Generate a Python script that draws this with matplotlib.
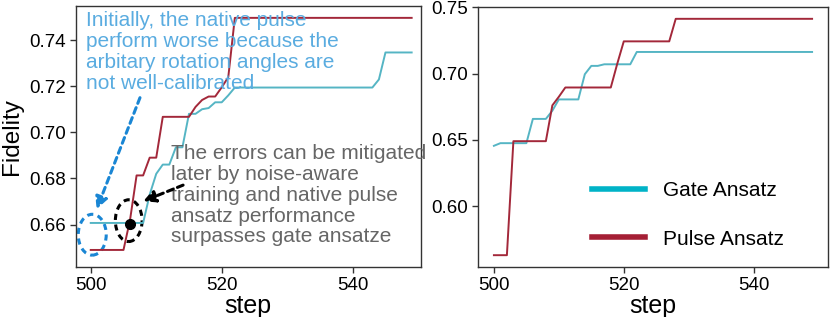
import matplotlib
matplotlib.use("Agg")
import matplotlib.pyplot as plt
from matplotlib.patches import Ellipse
from matplotlib.lines import Line2D
import numpy as np

plt.rcParams['font.family'] = ['Liberation Sans', 'DejaVu Sans']

steps = list(range(500, 550))

# Left panel
left_gate = [0.6607]*9 + [0.673, 0.682, 0.686, 0.686, 0.6935, 0.6935, 0.708, 0.708,
             0.710, 0.7105, 0.713, 0.713, 0.716] + [0.7194]*22 + [0.7229] + [0.7346]*5
left_pulse = [0.649]*6 + [0.662, 0.6813, 0.6813, 0.689, 0.689] + [0.7067]*5 + \
             [0.711, 0.714, 0.7155, 0.7155, 0.7195, 0.7239] + [0.7496]*28

# Right panel
right_gate = [0.6455] + [0.6475]*5 + [0.6658]*3 + [0.672, 0.6805, 0.6805, 0.6805, 0.6805,
              0.6995, 0.7058, 0.7058, 0.707, 0.707, 0.707, 0.707, 0.707] + [0.7163]*28
right_pulse = [0.563]*3 + [0.649]*6 + [0.676, 0.6825] + [0.6895]*8 + [0.7075] + \
              [0.7243]*8 + [0.7413]*22

labels = ["Gate Ansatz", "Pulse Ansatz"]
text_blue = "Initially, the native pulse\nperform worse because the\narbitary rotation angles are\nnot well-calibrated"
text_gray = "The errors can be mitigated\nlater by noise-aware\ntraining and native pulse\nansatz performance\nsurpasses gate ansatze"

c_gate = '#55b5c4'
c_pulse = '#a3283a'
c_gate_leg = '#00b3c7'
c_pulse_leg = '#a51f35'
c_arrow_blue = '#1a86d4'

fig = plt.figure(figsize=(8.31, 3.17), dpi=100)
ax1 = fig.add_axes([76/831, 1-267/317, (420.5-76)/831, (267-6)/317])
ax2 = fig.add_axes([478/831, 1-267/317, (828-478)/831, (267-7)/317])

for ax in (ax1, ax2):
    for s in ax.spines.values():
        s.set_color('#333333')
        s.set_linewidth(1.0)
    ax.tick_params(axis='both', labelsize=13.5, length=4, width=1, color='#333333')
    ax.set_xlabel('step', fontsize=18, labelpad=0)

ax1.plot(steps, left_gate, color=c_gate, lw=1.4)
ax1.plot(steps, left_pulse, color=c_pulse, lw=1.4)
ax1.set_xlim(497.75, 550.35)
ax1.set_xticks([500, 520, 540])
ax1.set_yticks([0.66, 0.68, 0.70, 0.72, 0.74])
ax1.set_yticklabels(['0.66', '0.68', '0.70', '0.72', '0.74'])
ax1.set_ylabel('Fidelity', fontsize=17.5, labelpad=4)

ax2.plot(steps, right_gate, color=c_gate, lw=1.4)
ax2.plot(steps, right_pulse, color=c_pulse, lw=1.4)
ax2.set_xticks([500, 520, 540])
ax2.set_yticks([0.60, 0.65, 0.70, 0.75])
ax2.set_yticklabels(['0.60', '0.65', '0.70', '0.75'])

handles = [Line2D([], [], color=c_gate_leg, lw=4), Line2D([], [], color=c_pulse_leg, lw=4)]
ax2.legend(handles, labels, loc='upper left', frameon=False, fontsize=15,
           labelspacing=1.42, handlelength=2.55, handletextpad=0.87,
           borderpad=0, borderaxespad=0, bbox_to_anchor=(0.326, 0.33))

# Annotations on left panel
ax1.text(499.3, 0.7525, text_blue, color='#5aace0', fontsize=15, va='top', ha='left',
         linespacing=1.12)
ax1.text(512.3, 0.6948, text_gray, color='#666666', fontsize=15, va='top', ha='left',
         linespacing=1.12, clip_on=False)

dash = (0, (2, 1.5))
ax1.annotate('', xy=(500.9, 0.6666), xytext=(507.52, 0.7150),
             arrowprops=dict(arrowstyle='-|>', color=c_arrow_blue, lw=2.2, ls=dash,
                             mutation_scale=18, shrinkA=0, shrinkB=0))
ax1.annotate('', xy=(508.0, 0.6701), xytext=(514.1, 0.6771),
             arrowprops=dict(arrowstyle='-|>', color='black', lw=2.2, ls=dash,
                             mutation_scale=18, shrinkA=0, shrinkB=0))
ax1.add_patch(Ellipse((500.23, 0.6556), 4.27, 0.0177, fill=False, ec=c_arrow_blue, lw=2.2,
                      ls=dash))
ax1.add_patch(Ellipse((505.8, 0.6617), 4.08, 0.0181, fill=False, ec='black', lw=2.2,
                      ls=dash))
ax1.plot([505.94], [0.6602], 'o', color='black', ms=7)

fig.savefig('out.png', dpi=100)
